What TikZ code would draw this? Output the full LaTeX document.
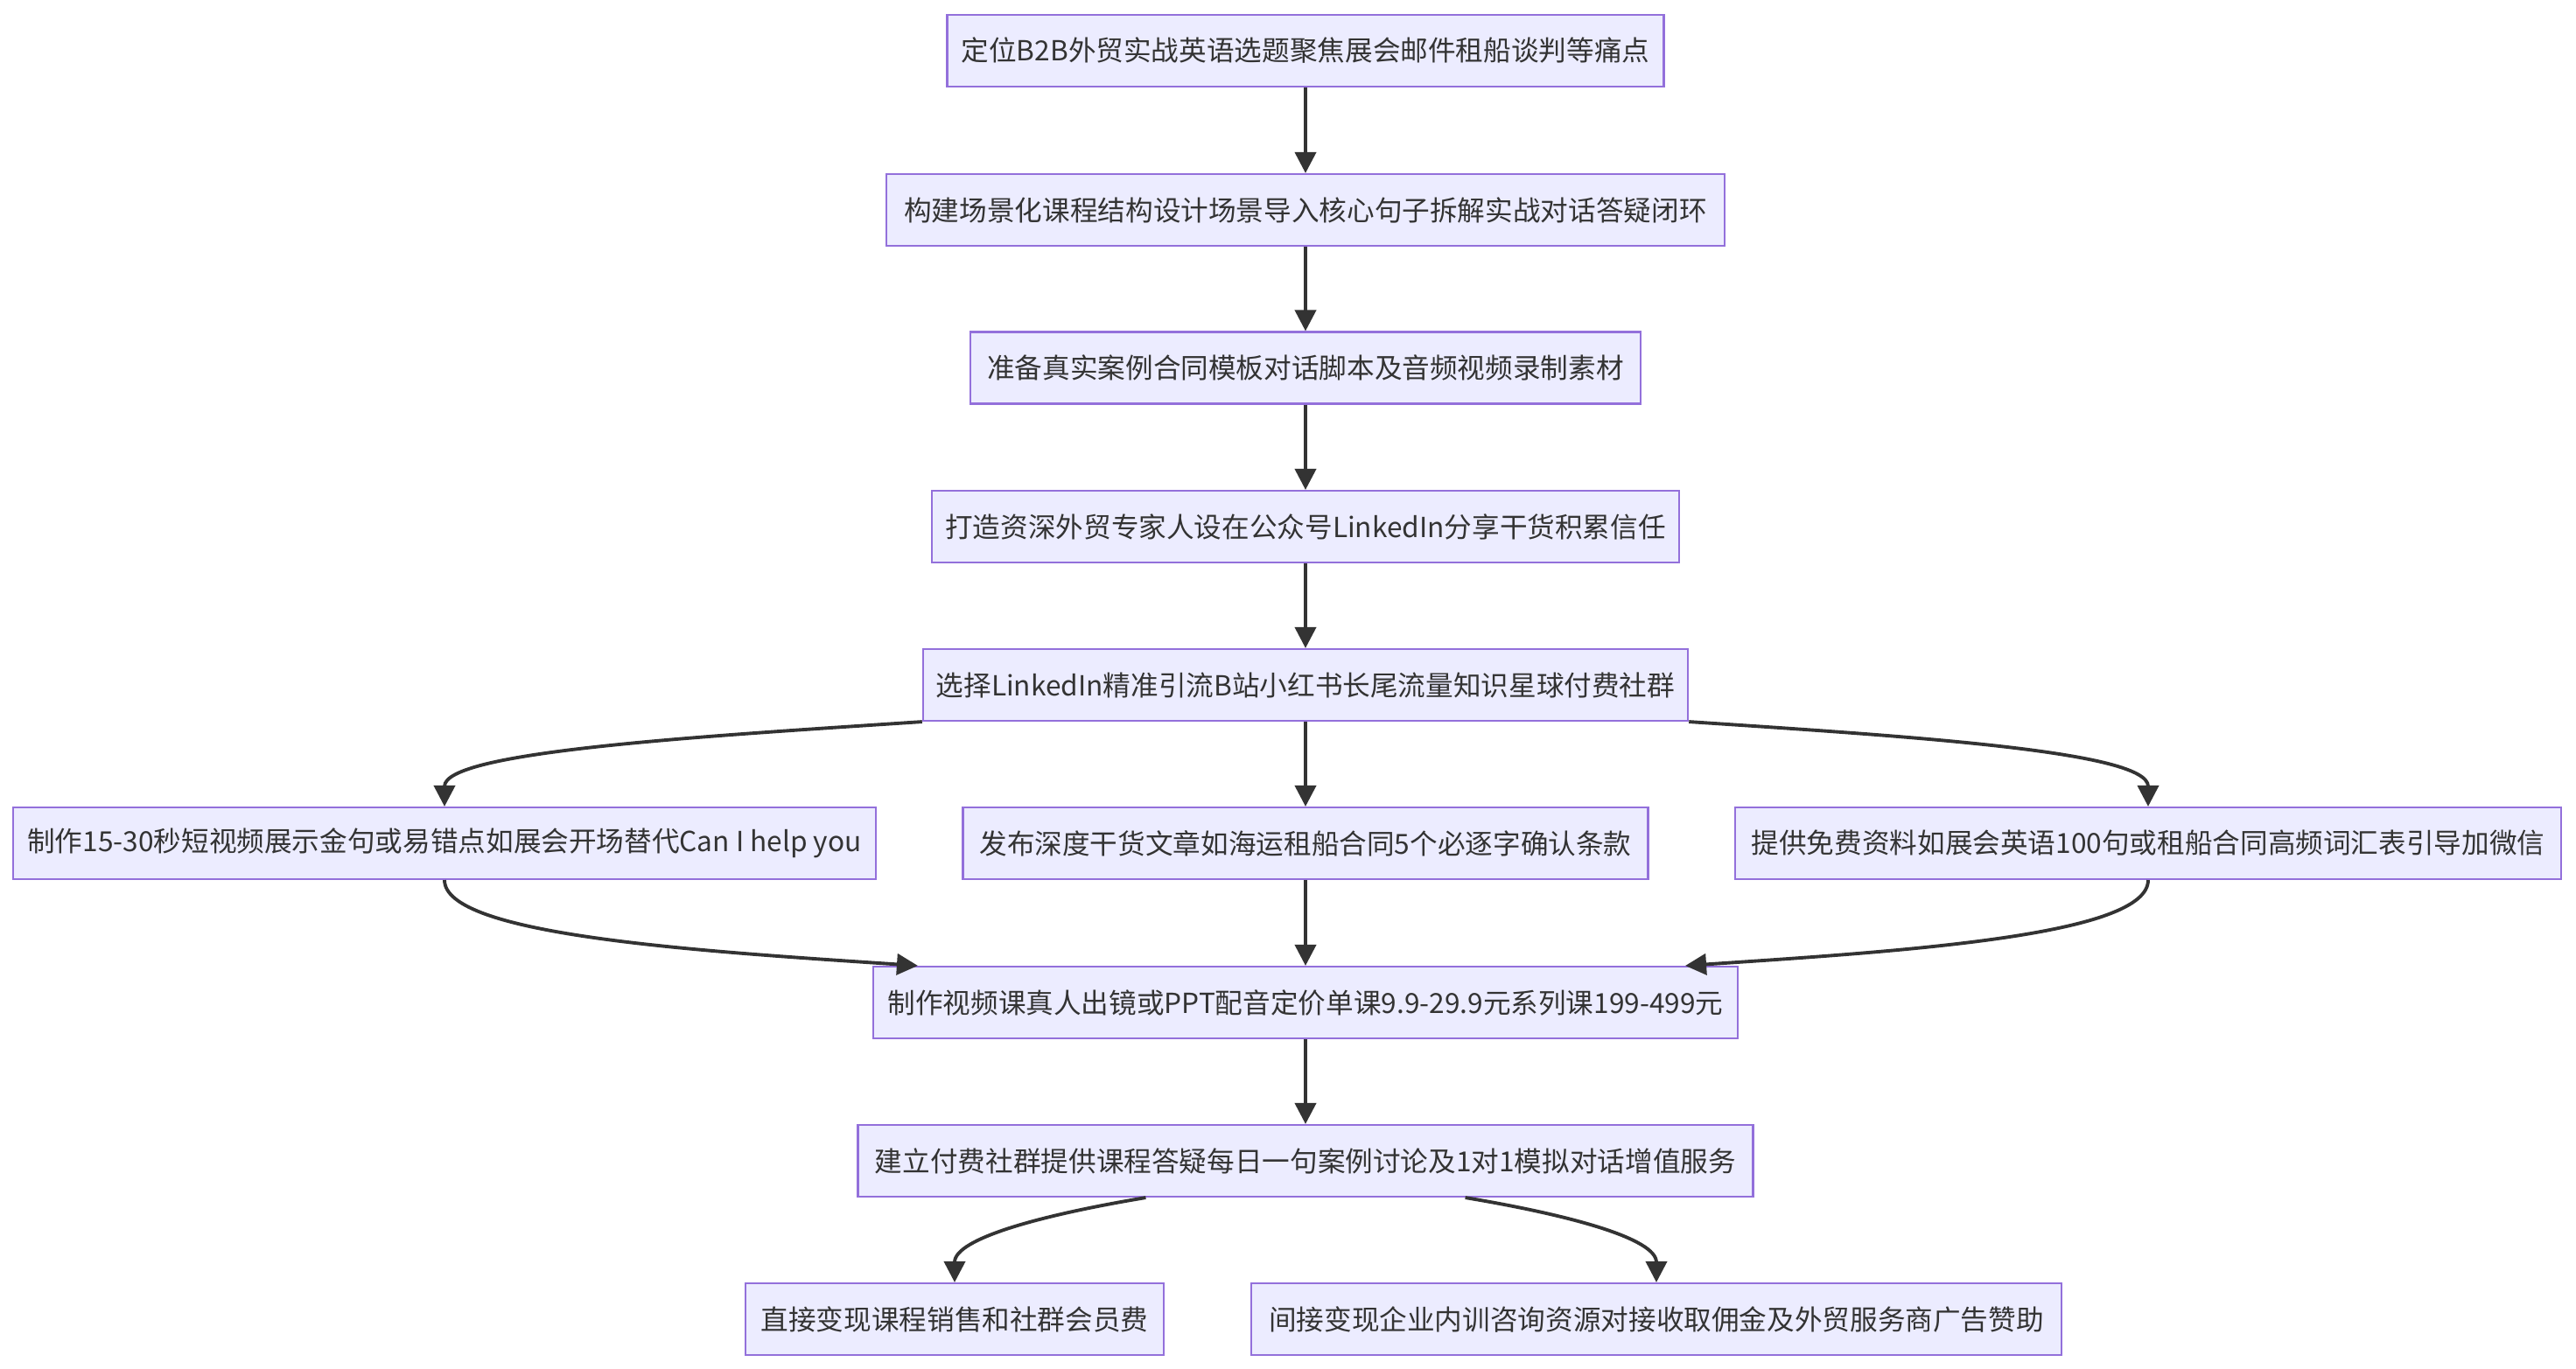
\documentclass[tikz,border=0pt]{standalone}
\usepackage{fontspec}
\setmainfont{Noto Sans CJK SC}
\usetikzlibrary{arrows.meta}
\definecolor{boxfill}{HTML}{ECECFF}
\definecolor{boxline}{HTML}{9370DB}
\definecolor{ink}{HTML}{333333}
\tikzset{
  box/.style={draw=boxline, fill=boxfill, line width=0.6pt, minimum height=0.82cm, inner xsep=0.15cm, text=ink, font=\fontsize{9}{11}\selectfont},
  flow/.style={draw=ink, line width=1.1pt, -{Triangle[length=0.24cm,width=0.24cm]}}
}
\begin{document}
\begin{tikzpicture}
\useasboundingbox (0,0) rectangle (29.44,-15.64);
\node[box, minimum width=8.19cm] (a) at (14.92,-0.58) {定位B2B外贸实战英语选题聚焦展会邮件租船谈判等痛点};
\node[box, minimum width=9.58cm] (b) at (14.92,-2.40) {构建场景化课程结构设计场景导入核心句子拆解实战对话答疑闭环};
\node[box, minimum width=7.66cm] (c) at (14.92,-4.205) {准备真实案例合同模板对话脚本及音频视频录制素材};
\node[box, minimum width=8.54cm] (d) at (14.92,-6.02) {打造资深外贸专家人设在公众号LinkedIn分享干货积累信任};
\node[box, minimum width=8.73cm] (e) at (14.92,-7.83) {选择LinkedIn精准引流B站小红书长尾流量知识星球付费社群};
\node[box, minimum width=9.86cm] (f1) at (5.08,-9.64) {制作15-30秒短视频展示金句或易错点如展会开场替代Can I help you};
\node[box, minimum width=7.83cm] (f2) at (14.92,-9.64) {发布深度干货文章如海运租船合同5个必逐字确认条款};
\node[box, minimum width=9.44cm] (f3) at (24.55,-9.64) {提供免费资料如展会英语100句或租船合同高频词汇表引导加微信};
\node[box, minimum width=9.88cm] (g) at (14.92,-11.46) {制作视频课真人出镜或PPT配音定价单课9.9-29.9元系列课199-499元};
\node[box, minimum width=10.23cm] (h) at (14.92,-13.27) {建立付费社群提供课程答疑每日一句案例讨论及1对1模拟对话增值服务};
\node[box, minimum width=4.78cm] (i1) at (10.91,-15.08) {直接变现课程销售和社群会员费};
\node[box, minimum width=9.26cm] (i2) at (18.93,-15.08) {间接变现企业内训咨询资源对接收取佣金及外贸服务商广告赞助};
\draw[flow] (a) -- (b);
\draw[flow] (b) -- (c);
\draw[flow] (c) -- (d);
\draw[flow] (d) -- (e);
\draw[flow] (e.south west) .. controls +(-2.56,-0.17) and +(0,0.63) .. (f1.north);
\draw[flow] (e) -- (f2);
\draw[flow] (e.south east) .. controls +(2.56,-0.17) and +(0,0.63) .. (f3.north);
\draw[flow] (f1.south) .. controls +(0,-0.63) and +(-2.56,0.17) .. ([xshift=0.52cm]g.north west);
\draw[flow] (f2) -- (g);
\draw[flow] (f3.south) .. controls +(0,-0.63) and +(2.56,0.17) .. ([xshift=-0.61cm]g.north east);
\draw[flow] (g) -- (h);
\draw[flow] ([xshift=3.30cm]h.south west) .. controls +(-1.2,-0.2) and +(0,0.5) .. (i1.north);
\draw[flow] ([xshift=-3.30cm]h.south east) .. controls +(1.2,-0.2) and +(0,0.5) .. (i2.north);
\end{tikzpicture}
\end{document}
